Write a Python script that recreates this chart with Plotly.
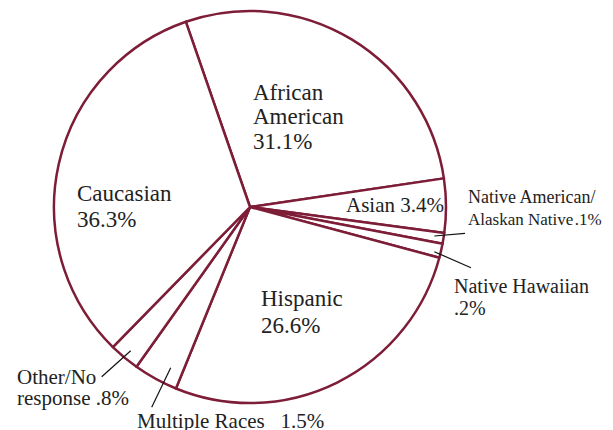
import plotly.graph_objects as go

W, H = 613, 430
OFF = 8  # page body margin offset of the rendered figure

# Categories in drawing order (clockwise from the top-left radius)
categories = ["African American", "Asian", "Native American/Alaskan Native",
              "Native Hawaiian", "Hispanic", "Multiple Races",
              "Other/No response", "Caucasian"]
# Printed percentages
percent_labels = [31.1, 3.4, 0.1, 0.2, 26.6, 1.5, 0.8, 36.3]
# Slice sizes as drawn in the picture (degrees of arc, small slices exaggerated)
slice_degrees = [100.7, 16.0, 3.2, 4.2, 97.2, 13.2, 9.0, 116.5]

line_color = "#7d1d37"
font_family = "Liberation Serif"

cx, cy, r = 250 - OFF, 207 - OFF, 196

fig = go.Figure(go.Pie(
    labels=categories,
    values=slice_degrees,
    sort=False,
    direction="clockwise",
    rotation=-19.1,
    textinfo="none",
    hoverinfo="label",
    customdata=percent_labels,
    marker=dict(colors=["white"] * len(categories),
                line=dict(color=line_color, width=2.5)),
    domain=dict(x=[(cx - r) / W, (cx + r) / W],
                y=[1 - (cy + r) / H, 1 - (cy - r) / H]),
    showlegend=False,
))

def fmt(p):
    s = f"{p:.1f}%"
    return s[1:] if s.startswith("0") else s

# label lines: (text, left x px, baseline y px, font size)
lines = [
    ("African", 251, 100, 23),
    ("American", 251, 124.5, 23),
    (fmt(percent_labels[0]), 251, 149.5, 23),
    ("Caucasian", 75, 201, 23),
    (fmt(percent_labels[7]), 75, 227, 23),
    ("Hispanic", 259, 306, 23),
    (fmt(percent_labels[4]), 259, 333, 23),
    ("Asian " + fmt(percent_labels[1]), 344, 212, 21),
    ("Native American/", 466, 203, 18),
    ("Alaskan Native\u200a" + fmt(percent_labels[2]), 466, 225, 17),
    ("Native Hawaiian", 452, 292.5, 20),
    (fmt(percent_labels[3]), 452, 315, 20),
    ("Other/No", 15, 384, 21),
    ("response " + fmt(percent_labels[6]), 15, 404.5, 21),
    ("Multiple Races\u2002 " + fmt(percent_labels[5]), 135, 427.5, 21),
]

annotations = []
for text, x, base, size in lines:
    x -= OFF
    base -= OFF
    annotations.append(dict(
        text=text, x=x / W, y=1 - (base - 0.33 * size) / H,
        xref="paper", yref="paper", xanchor="left", yanchor="middle",
        showarrow=False, font=dict(family=font_family, size=size, color="#222222"),
    ))

# leader lines (pixel coordinates)
leaders = [
    ((434.3, 236.0), (465.0, 233.3)),
    ((434.3, 251.7), (471.0, 267.7)),
    ((130.7, 350.7), (101.7, 376.7)),
    ((170.7, 367.7), (151.7, 407.3)),
]
shapes = []
for (x0, y0), (x1, y1) in leaders:
    x0, y0, x1, y1 = x0 - OFF, y0 - OFF, x1 - OFF, y1 - OFF
    shapes.append(dict(type="line", xref="paper", yref="paper",
                       x0=x0 / W, y0=1 - y0 / H, x1=x1 / W, y1=1 - y1 / H,
                       line=dict(color="#111111", width=1.2)))

fig.update_layout(
    width=W, height=H,
    margin=dict(l=0, r=0, t=0, b=0),
    paper_bgcolor="white", plot_bgcolor="white",
    annotations=annotations, shapes=shapes,
)

fig.write_html("out.html", config={"displayModeBar": False})
